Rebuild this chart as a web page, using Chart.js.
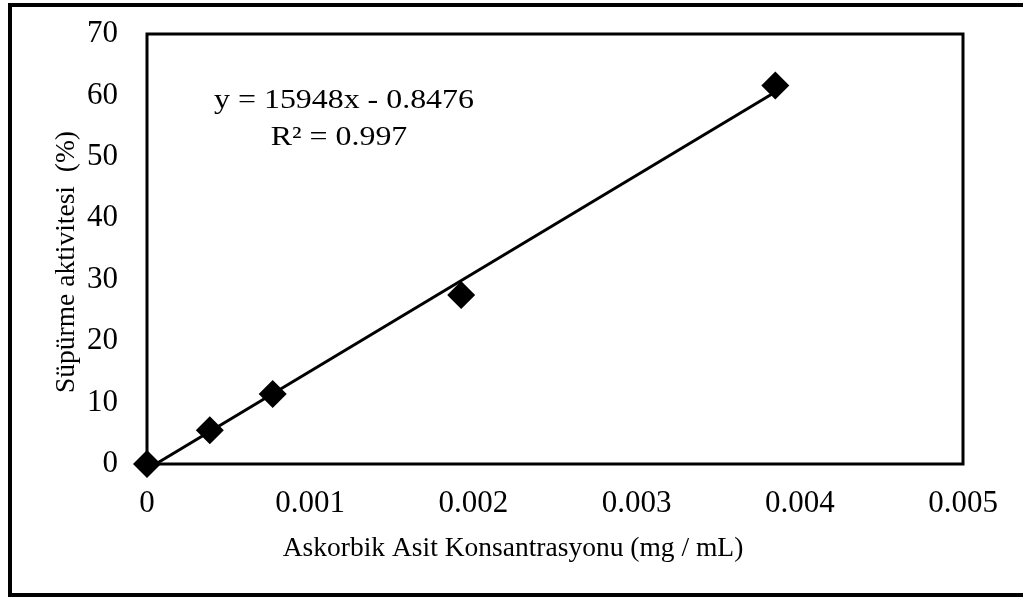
<!DOCTYPE html>
<html>
<head>
<meta charset="utf-8">
<script src="https://cdn.jsdelivr.net/npm/chart.js@4.4.0/dist/chart.umd.min.js"></script>
<style>
html,body{margin:0;padding:0;background:#fff;}
#wrap{width:1023px;height:599px;position:relative;}
</style>
</head>
<body>
<div id="wrap"><canvas id="c" width="1023" height="599"></canvas></div>
<script>
// ---- data ----
const concentrations = [0, 0.000385, 0.00077, 0.001925, 0.00385];
const activity = [0, 5.5, 11.4, 27.5, 61.6];
const trendSlope = 15948;
const trendIntercept = -0.8476;
const xTicks = [0, 0.001, 0.002, 0.003, 0.004, 0.005];
const xTickLabels = ['0', '0.001', '0.002', '0.003', '0.004', '0.005'];
const yTicks = [0, 10, 20, 30, 40, 50, 60, 70];
const equationLines = ['y = 15948x - 0.8476', 'R² = 0.997'];
const xTitle = 'Askorbik Asit Konsantrasyonu (mg / mL)';
const yTitle = 'Süpürme aktivitesi  (%)';

const FONT = '"Liberation Serif", "Times New Roman", serif';
const TICK_FS = 31;
const TITLE_FS = 27.5;
const EQ_FS = 27.5;
const EQ_STRETCH = 1.16;

const scatterData = concentrations.map((x, i) => ({x: x, y: activity[i]}));
const trendX = [concentrations[0], concentrations[concentrations.length - 1]];
const trendData = trendX.map(x => ({x: x, y: trendSlope * x + trendIntercept}));

function stretchedText(ctx, text, cx, by, sx) {
  ctx.save();
  ctx.translate(cx, by);
  ctx.scale(sx, 1);
  ctx.fillText(text, 0, 0);
  ctx.restore();
}

const framePlugin = {
  id: 'frame',
  beforeDatasetsDraw(chart) {
    const {ctx, chartArea: a} = chart;
    ctx.save();
    ctx.strokeStyle = '#000';
    ctx.lineWidth = 3;
    ctx.strokeRect(a.left, a.top, a.right - a.left, a.bottom - a.top);
    ctx.restore();
  },
  afterDraw(chart) {
    const {ctx} = chart;
    ctx.save();
    // outer chart border
    ctx.strokeStyle = '#000';
    ctx.lineWidth = 4;
    ctx.strokeRect(10, 5, 1100, 590);
    ctx.fillStyle = '#000';
    ctx.textAlign = 'center';
    // equation
    ctx.font = EQ_FS + 'px ' + FONT;
    ctx.textBaseline = 'alphabetic';
    stretchedText(ctx, equationLines[0], 344, 108, EQ_STRETCH);
    stretchedText(ctx, equationLines[1], 339, 145, EQ_STRETCH);
    // x title
    ctx.font = TITLE_FS + 'px ' + FONT;
    ctx.textBaseline = 'middle';
    ctx.fillText(xTitle, 513, 549);
    // y title
    ctx.translate(67, 262);
    ctx.rotate(-Math.PI / 2);
    ctx.fillText(yTitle, 0, 0);
    ctx.restore();
  }
};

new Chart(document.getElementById('c'), {
  data: {
    datasets: [
      {
        type: 'line',
        data: trendData,
        borderColor: '#000',
        borderWidth: 3,
        pointRadius: 0,
        fill: false,
        clip: false,
        order: 2
      },
      {
        type: 'scatter',
        data: scatterData,
        pointStyle: 'rectRot',
        pointRadius: 14,
        pointHoverRadius: 14,
        backgroundColor: '#000',
        borderColor: '#000',
        borderWidth: 0,
        clip: false,
        order: 1
      }
    ]
  },
  plugins: [framePlugin],
  options: {
    responsive: false,
    animation: false,
    events: [],
    layout: {padding: {left: 10, top: 34, right: 60, bottom: 10}},
    plugins: {legend: {display: false}, tooltip: {enabled: false}, title: {display: false}},
    scales: {
      x: {
        type: 'linear',
        min: 0,
        max: 0.005,
        afterFit(s) { s.height = 125; s.paddingLeft = 0; s.paddingRight = 0; },
        afterBuildTicks(s) { s.ticks = xTicks.map(v => ({value: v})); },
        grid: {display: false, drawTicks: false},
        border: {display: false},
        ticks: {
          padding: 21,
          color: '#000',
          font: {family: FONT, size: TICK_FS},
          maxRotation: 0,
          callback: (v, i) => xTickLabels[i]
        }
      },
      y: {
        type: 'linear',
        min: 0,
        max: 70,
        afterFit(s) { s.width = 137; s.paddingTop = 0; s.paddingBottom = 0; },
        afterBuildTicks(s) { s.ticks = yTicks.map(v => ({value: v})); },
        grid: {display: false, drawTicks: false},
        border: {display: false},
        ticks: {
          padding: 29,
          color: '#000',
          font: {family: FONT, size: TICK_FS}
        }
      }
    }
  }
});
</script>
</body>
</html>
